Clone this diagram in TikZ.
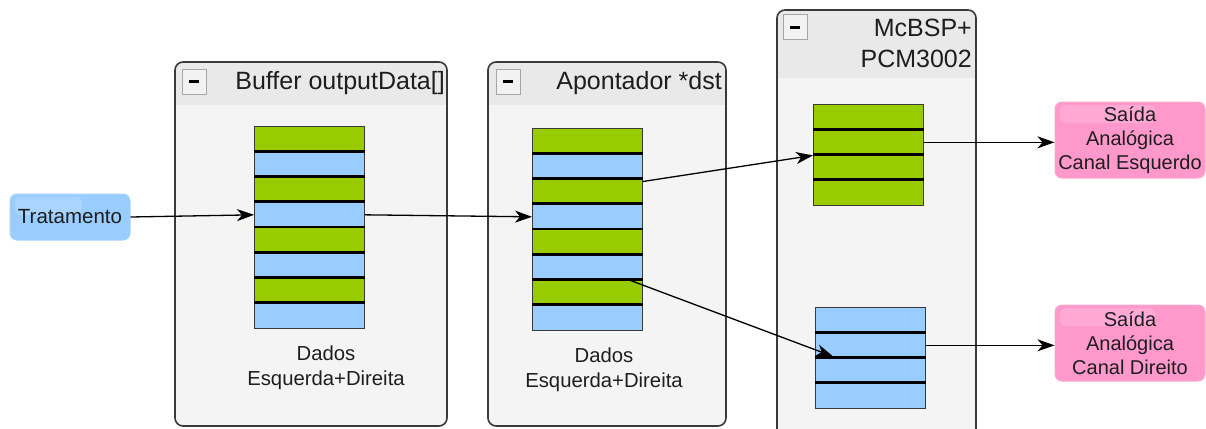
\documentclass[tikz,border=0pt]{standalone}
\usepackage{fontspec}
\setmainfont{Liberation Sans}
\usetikzlibrary{arrows.meta,calc}

\definecolor{cellgreen}{HTML}{99CC00}
\definecolor{cellblue}{HTML}{99CCFF}
\definecolor{panelbody}{HTML}{F4F4F4}
\definecolor{panelhead}{HTML}{E9E9E9}
\definecolor{panelline}{HTML}{3A3A3A}
\definecolor{outpink}{HTML}{FF99CC}
\definecolor{outpinkline}{HTML}{F7A8CF}
\definecolor{inblue}{HTML}{99CCFF}
\definecolor{inblueline}{HTML}{A8D2FA}
\definecolor{txt}{HTML}{1E1E1E}

\tikzset{
  flow/.style={-{Stealth[length=17pt,width=12pt,inset=5pt]}, line width=1.3pt, black},
  cell/.style={draw=panelline, line width=0.9pt, minimum width=110pt,
    minimum height=25.25pt, inner sep=0pt, anchor=north west},
  sep/.style={line width=2.8pt, black},
  headtxt/.style={text=txt, inner sep=0pt, font=\fontsize{25}{31}\selectfont},
  bodytxt/.style={text=txt, inner sep=0pt, align=center, font=\fontsize{20.3}{25}\selectfont},
  gloss/.style={path picture={
      \fill[white, opacity=0.16, rounded corners=5pt]
        ($(path picture bounding box.north west)+(5pt,-3pt)$) rectangle
        ($(path picture bounding box.north east)+(-#1,-21pt)$);}},
  outbox/.style={draw=outpinkline, line width=1pt, fill=outpink, rounded corners=7pt,
    minimum width=150pt, minimum height=76pt, inner sep=2pt, align=center,
    text=txt, font=\fontsize{20}{24}\selectfont, gloss=50pt},
  inbox/.style={draw=inblueline, line width=1pt, fill=inblue, rounded corners=7pt,
    minimum width=120pt, minimum height=46pt, inner sep=2pt,
    text=txt, font=\fontsize{20.5}{24}\selectfont, gloss=48pt},
}

% panel with a darker header band: x1, y1, x2, y2, bottom of header
\newcommand\drawpanel[5]{%
  \fill[panelbody, rounded corners=8pt] (#1,#2) rectangle (#3,#4);
  \begin{scope}
    \clip[rounded corners=8pt] (#1,#2) rectangle (#3,#4);
    \fill[panelhead] (#1,#2) rectangle (#3,#5);
  \end{scope}
  \draw[panelline, line width=1.6pt, rounded corners=8pt] (#1,#2) rectangle (#3,#4);
}

% collapse button in a panel header
\newcommand\minusbox[2]{%
  \draw[draw=gray!70, fill=white!90!gray, line width=1pt] (#1,#2) rectangle ++(24,25);
  \draw[line width=3pt, black] ({#1+7},{#2+12.5}) -- ({#1+17},{#2+12.5});
}

% stack of cells: name, x, y, count, colouring (0 alternating, 1 green, 2 blue)
\newcommand\cellstack[5]{%
  \foreach \i in {1,...,#4}{%
    \ifcase#5\relax
      \ifodd\i\relax\def\cc{cellgreen}\else\def\cc{cellblue}\fi
    \or\def\cc{cellgreen}%
    \or\def\cc{cellblue}%
    \fi
    \node[cell, fill=\cc] (#1c\i) at (#2,{#3+(\i-1)*25.25}) {};
  }
  \foreach \i in {2,...,#4}{%
    \draw[sep] (#1c\i.north west) -- (#1c\i.north east);
  }
}

\begin{document}
\begin{tikzpicture}[x=1pt, y=-1pt]
  \useasboundingbox (0,0) rectangle (1206,428);

  % panels
  \drawpanel{175}{62}{447}{426}{105}
  \drawpanel{488}{62}{726}{426}{105}
  \drawpanel{777}{10}{976}{445}{78}
  \minusbox{182}{69}
  \minusbox{496}{69}
  \minusbox{783}{15}

  \node[headtxt, anchor=east] (h1) at (445,83) {Buffer outputData[]};
  \node[headtxt, anchor=east] (h2) at (722,83) {Apontador *dst};
  \node[headtxt, anchor=east, align=right] (h3) at (972,43) {McBSP+\\PCM3002};

  % buffers
  \cellstack{s1}{254}{126}{8}{0}
  \cellstack{s2}{532}{128}{8}{0}
  \cellstack{s3}{813}{104}{4}{1}
  \cellstack{s4}{815}{307}{4}{2}

  \node[bodytxt] (l1) at (326,368) {Dados\\Esquerda+Direita};
  \node[bodytxt] (l2) at (604,370) {Dados\\Esquerda+Direita};

  % source and outputs
  \node[inbox] (trat) at (70,217) {Tratamento};
  \node[outbox] (o1) at (1130,140) {Saída\\Analógica\\Canal Esquerdo};
  \node[outbox] (o2) at (1130,343) {Saída\\Analógica\\Canal Direito};

  % data flow
  \draw[flow] (trat.east) -- (s1c4.west);
  \draw[flow] (s1c4.east) -- (s2c4.west);
  \draw[flow] ([yshift=-3pt]s2c3.north east) -- (s3c2.south west);
  \draw[flow] ([xshift=-15pt]s2c7.north east) -- ([xshift=18pt,yshift=2pt]s4c2.south west);
  \draw[flow] (s3c2.east) -- (s3c2.east -| o1.west);
  \draw[flow] (s4c2.east) -- (s4c2.east -| o2.west);
\end{tikzpicture}
\end{document}
